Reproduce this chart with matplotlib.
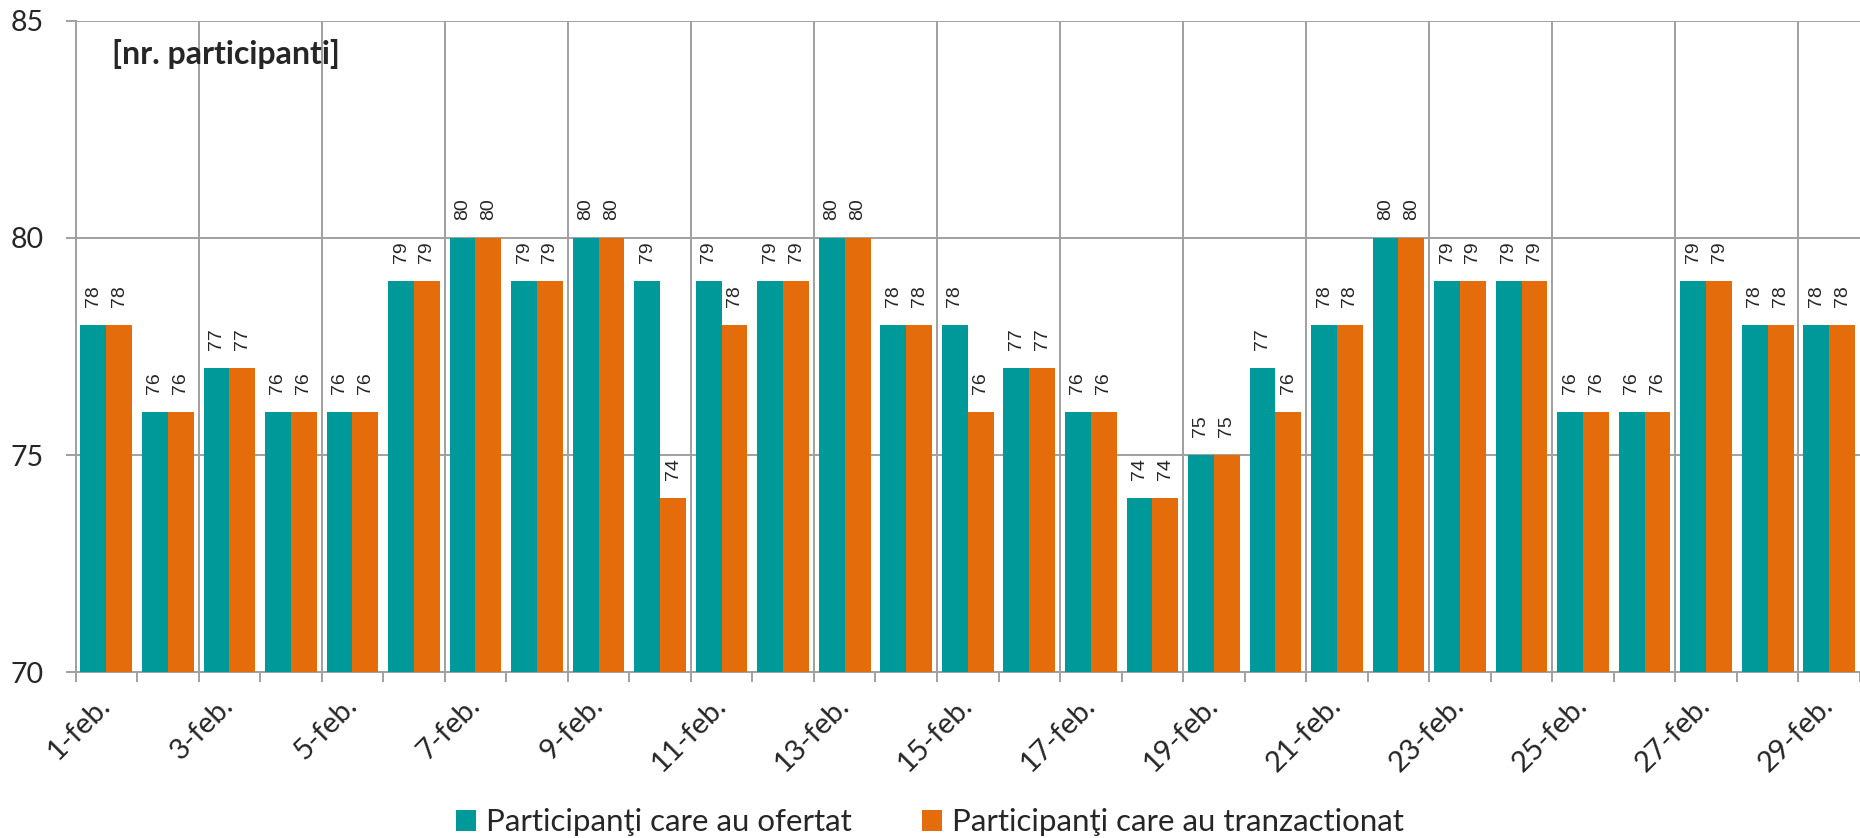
import matplotlib.pyplot as plt

# participants per day, February
days = list(range(1, 30))
ofertat = [78, 76, 77, 76, 76, 79, 80, 79, 80, 79, 79, 79, 80, 78, 78,
           77, 76, 74, 75, 77, 78, 80, 79, 79, 76, 76, 79, 78, 78]
tranzactionat = [78, 76, 77, 76, 76, 79, 80, 79, 80, 74, 78, 79, 80, 78, 76,
                 77, 76, 74, 75, 76, 78, 80, 79, 79, 76, 76, 79, 78, 78]
label_days = days[::2]
label_text = [f"{d}-feb." for d in label_days]
series_names = ["Participanţi care au ofertat", "Participanţi care au tranzactionat"]

teal = '#009999'
orange = '#e46c0a'
grid_gray = '#a0a0a0'
text_col = '#262626'

fig = plt.figure(figsize=(18.6, 8.38), dpi=100)
ax = fig.add_axes([0.0406, 0.198, 1 - 0.0406, 0.975 - 0.198])

w = 0.42
x1 = [d - w / 2 for d in days]
x2 = [d + w / 2 for d in days]
b1 = ax.bar(x1, ofertat, w, color=teal, label=series_names[0], zorder=3)
b2 = ax.bar(x2, tranzactionat, w, color=orange, label=series_names[1], zorder=3)

for bars in (b1, b2):
    for r in bars:
        ax.annotate(f"{r.get_height():.0f}",
                    (r.get_x() + r.get_width() / 2, r.get_height()),
                    xytext=(0, 13), textcoords='offset points',
                    ha='center', va='bottom', rotation=90,
                    fontsize=14, color=text_col, family='Liberation Sans',
                    zorder=4)

ax.set_ylim(70, 85)
ax.set_xlim(0.5, 29.39)
ax.set_yticks([70, 75, 80, 85])

# labels under odd days, ticks on each day boundary
ax.set_xticks(label_days)
ax.set_xticklabels(label_text, rotation=45, ha='right', va='center',
                   rotation_mode='anchor', family='Lato', fontsize=21,
                   color=text_col)
ax.set_xticks([d + 0.5 for d in range(0, 30)], minor=True)
ax.tick_params(axis='x', which='major', length=0, pad=21)
ax.tick_params(axis='x', which='minor', length=7, width=1.4, color=grid_gray)
ax.tick_params(axis='y', length=7, width=1.4, color=grid_gray, pad=16,
               labelsize=20.5, labelcolor=text_col)
for lab in ax.get_yticklabels():
    lab.set_family('Lato')

ax.grid(axis='y', color=grid_gray, lw=1.4, zorder=1)
for g in range(0, 30, 2):
    ax.axvline(g + 0.5, color=grid_gray, lw=1.4, zorder=1)

for s in ['top', 'right']:
    ax.spines[s].set_visible(False)
for s in ['left', 'bottom']:
    ax.spines[s].set_color(grid_gray)
    ax.spines[s].set_linewidth(1.4)

ax.text(0.0207, 0.949, "[nr. participanti]", transform=ax.transAxes,
        ha='left', va='center', fontsize=23, fontweight='bold',
        family='Lato', color=text_col)

fig.legend(loc='center', bbox_to_anchor=(0.5, 0.019), ncol=2, frameon=False,
           handlelength=0.65, handleheight=0.65, handletextpad=0.32,
           columnspacing=2.25, prop={'family': 'Lato', 'size': 22.5},
           labelcolor=text_col)

fig.savefig('out.png', dpi=100)
